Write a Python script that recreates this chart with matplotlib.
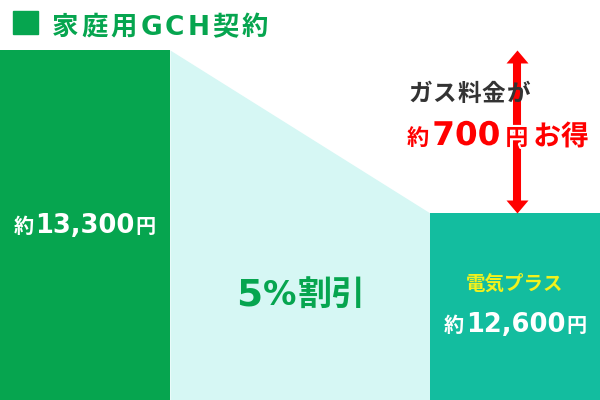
import matplotlib
matplotlib.use("Agg")
import matplotlib.pyplot as plt
import matplotlib.patheffects as pe

plt.rcParams['font.family'] = ['DejaVu Sans', 'Noto Sans CJK JP']

# datos
plans = ['家庭用GCH契約', '電気プラス']
costs = [13300, 12600]
cost_labels = ['13,300', '12,600']
discount = ['5', '%', '割引']
saving = '700'

GREEN = '#06a54f'
TEAL = '#13bd9f'
CYAN = '#d6f7f4'
RED = '#ff0000'
YELLOW = '#f2f21c'

# escala vertical: 700円 = 163 px, barra izquierda arriba en y=50 px
px_per_yen = 163 / (costs[0] - costs[1])
y_top = costs[0] + 50 / px_per_yen
y_base = costs[0] - 350 / px_per_yen

fig = plt.figure(figsize=(6, 4), dpi=100)
ax = fig.add_axes([0, 0, 1, 1])
ax.set_xlim(0, 600)
ax.set_ylim(y_base, y_top)
ax.axis('off')

# zona del descuento
ax.fill_between([170, 430], costs, y_base, color=CYAN, lw=0, zorder=1)

# barras
heights = [c - y_base for c in costs]
ax.bar([85, 515], heights, width=170, bottom=y_base, color=[GREEN, TEAL], zorder=2)

# flecha doble
ax.plot([517, 517], [costs[1] + 30, costs[0] - 30], color=RED, lw=5.8,
        solid_capstyle='butt', zorder=3)
head_up = [(0, 0), (-11, -13), (11, -13), (0, 0)]
head_dn = [(0, 0), (-11, 13), (11, 13), (0, 0)]
ax.plot(517, costs[0], marker=head_up, ms=18.7, color=RED, mew=0, zorder=3)
ax.plot(517, costs[1], marker=head_dn, ms=18.7, color=RED, mew=0, zorder=3)

renderer = fig.canvas.get_renderer()


def chain(x, y, pieces, color, halo=False):
    # pieces: (texto, tamaño, espacio tras cada letra o None, hueco tras la pieza)
    for s, size, track, gap in pieces:
        chunks = list(s) if track is not None else [s]
        for ch in chunks:
            t = fig.text(x / 600, 1 - y / 400, ch, fontsize=size, color=color,
                         fontweight='bold', ha='left', va='baseline', zorder=5)
            if halo:
                t.set_path_effects([pe.withStroke(linewidth=3, foreground='white')])
            x += t.get_window_extent(renderer).width + (track or 0)
        x += gap
    return x


# titulo
fig.patches.append(plt.Rectangle((13 / 600, 1 - 34 / 400), 25 / 600, 23 / 400,
                                 transform=fig.transFigure, color=GREEN))
chain(52, 35, [(plans[0], 19, 3, 0)], GREEN)

# barra izquierda
chain(14, 233, [('約', 14.5, None, 1), (cost_labels[0], 18.5, None, 1),
                ('円', 14.5, None, 0)], 'white')

# descuento
chain(236, 305, [(discount[0], 27, None, 1), (discount[1], 24, None, 1),
                 (discount[2], 24.5, None, 0)], GREEN)

# barra derecha
chain(466, 290, [(plans[1], 14, None, 0)], YELLOW)
chain(444, 332, [('約', 14.5, None, 2), (cost_labels[1], 18.5, None, 1),
                 ('円', 14.5, None, 0)], 'white')

# ahorro
chain(408, 101, [('ガス料金が', 17, 1, 0)], '#333333')
chain(407, 145, [('約', 16, None, 3), (saving, 23.5, None, 5),
                 ('円', 16.5, None, 5), ('お得', 20, None, 0)], RED, halo=True)

fig.savefig('out.png', dpi=100)
